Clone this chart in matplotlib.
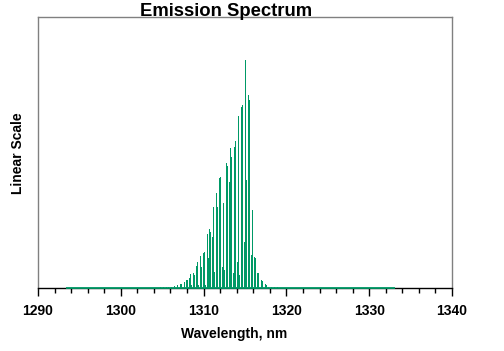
import matplotlib
matplotlib.use("Agg")
import matplotlib.pyplot as plt
from matplotlib.ticker import MultipleLocator

# Spectral lines (wavelength in nm, linear power, arbitrary units)
wavelength_nm = [1304.73, 1305.10, 1305.46, 1305.70, 1306.06, 1306.43, 1306.79, 1307.15, 1307.27,
                 1307.63, 1307.87, 1308.00, 1308.24, 1308.36, 1308.48, 1308.72, 1308.84, 1309.08,
                 1309.20, 1309.32, 1309.57, 1309.69, 1309.93, 1310.05, 1310.17, 1310.41, 1310.53,
                 1310.65, 1310.77, 1311.01, 1311.14, 1311.26, 1311.50, 1311.62, 1311.86, 1311.98,
                 1312.22, 1312.34, 1312.46, 1312.71, 1312.83, 1313.07, 1313.19, 1313.31, 1313.55,
                 1313.67, 1313.79, 1314.03, 1314.15, 1314.28, 1314.52, 1314.64, 1314.88, 1315.00,
                 1315.12, 1315.36, 1315.48, 1315.72, 1315.85, 1316.09, 1316.21, 1316.45, 1316.57,
                 1316.93, 1317.05, 1317.42, 1317.54, 1317.78, 1318.14, 1318.50, 1318.86]
power = [1, 1, 1, 1, 1.5, 2, 3, 4, 4,
         6, 8, 8, 10, 14, 3, 15, 13, 22,
         26, 3, 32, 21, 35, 36, 3, 54, 30,
         59, 56, 51, 81, 16, 95, 81, 110, 111,
         21, 85, 18, 125, 122, 106, 140, 131, 15,
         141, 147, 26, 172, 13, 181, 183, 46, 228,
         108, 193, 188, 33, 78, 31, 30, 15, 15,
         8, 7, 4, 3, 1.5, 1, 1, 1]

scan_range_nm = [1293.4, 1333.1]
x_ticks = [1290, 1300, 1310, 1320, 1330, 1340]
x_limits = [1290, 1340]
y_limits = [0, 271]

green = "#009966"
font = ["Liberation Sans", "DejaVu Sans"]

fig = plt.figure(figsize=(5.04, 3.51), dpi=100)
ax = fig.add_axes([38 / 504, 1 - 288 / 351, 414 / 504, 271 / 351])

ax.vlines(wavelength_nm, 0, power, colors=green, linewidth=0.72, zorder=3, antialiased=False)
ax.plot(scan_range_nm, [0, 0], color=green, linewidth=1.3, zorder=5, clip_on=False,
        solid_capstyle="butt")

ax.set_xlim(*x_limits)
ax.set_ylim(*y_limits)
ax.set_xticks(x_ticks)
ax.set_xticklabels([str(t) for t in x_ticks], fontfamily=font, fontweight="bold", fontsize=10)
ax.xaxis.set_minor_locator(MultipleLocator(2))
ax.tick_params(axis="x", which="major", direction="out", length=6, width=1, color="black", pad=5.5)
ax.tick_params(axis="x", which="minor", direction="out", length=3.5, width=1, color="black")
ax.set_yticks([])

for side in ["left", "top", "right"]:
    ax.spines[side].set_color("#808080")
    ax.spines[side].set_linewidth(1)
ax.spines["bottom"].set_color("black")
ax.spines["bottom"].set_linewidth(1)

fig.text(226 / 504, 1 - 16 / 351, "Emission Spectrum", ha="center", va="baseline",
         fontfamily=font, fontweight="bold", fontsize=13.3)
fig.text(234 / 504, 1 - 334 / 351, "Wavelength, nm", ha="center", va="center",
         fontfamily=font, fontweight="bold", fontsize=10)
fig.text(18 / 504, 1 - 153 / 351, "Linear Scale", ha="center", va="center", rotation=90,
         fontfamily=font, fontweight="bold", fontsize=10)

fig.savefig("out.png", dpi=100)
